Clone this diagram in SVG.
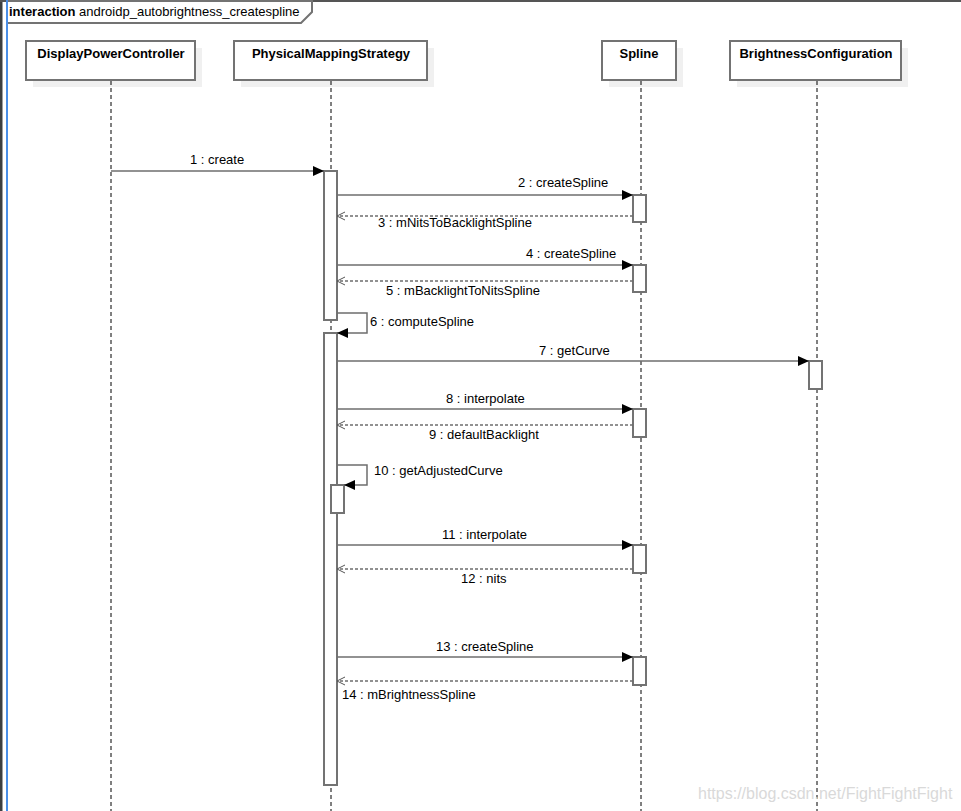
<svg xmlns="http://www.w3.org/2000/svg" width="961" height="811" viewBox="0 0 961 811">
<style>
text{font-family:"Liberation Sans",Arial,sans-serif;font-size:13px;fill:#000}
.hd{font-weight:bold;text-anchor:middle}
.box{fill:#fff;stroke:#737373;stroke-width:2}
.sh{fill:#f0f0f0}
.life{stroke:#000;stroke-width:1;stroke-dasharray:4 3;fill:none}
.act{fill:#fff;stroke:#737373;stroke-width:2}
.msg{stroke:#6e6e6e;stroke-width:1.5;fill:none;marker-end:url(#fa)}
.ret{stroke:#6e6e6e;stroke-width:1.5;fill:none;stroke-dasharray:3 2;marker-end:url(#oa)}
</style>
<defs>
<marker id="fa" markerUnits="userSpaceOnUse" markerWidth="12" markerHeight="10" refX="11" refY="5" orient="auto">
<path d="M0,0 L11,5 L0,10 z" fill="#000"/>
</marker>
<marker id="oa" markerUnits="userSpaceOnUse" markerWidth="10" markerHeight="10" refX="9" refY="5" orient="auto">
<path d="M1,1 L9,5 L1,9" fill="none" stroke="#555" stroke-width="1"/>
</marker>
</defs>
<rect x="0" y="0" width="961" height="811" fill="#fff"/>
<g id="frame">
<rect x="0" y="0" width="2.5" height="811" fill="#3c3f41"/>
<line x1="0" y1="1" x2="961" y2="1" stroke="#555" stroke-width="2"/>
<path d="M7,1 L312,1 L312,12 L301,23 L7,23" fill="#fff" stroke="#737373" stroke-width="2"/>
<line x1="7" y1="0" x2="7" y2="811" stroke="#4a8fe8" stroke-width="2"/>
<text x="9" y="16"><tspan font-weight="bold">interaction</tspan> androidp_autobrightness_createspline</text>
</g>
<g id="DisplayPowerController">
<rect class="sh" x="33" y="48" width="169" height="39"/>
<rect class="box" x="26" y="41" width="169" height="39"/>
<text class="hd" x="111" y="58">DisplayPowerController</text>
<line class="life" x1="111" y1="81" x2="111" y2="811"/>
</g>
<g id="PhysicalMappingStrategy">
<rect class="sh" x="241" y="48" width="193" height="39"/>
<rect class="box" x="234" y="41" width="193" height="39"/>
<text class="hd" x="331" y="58">PhysicalMappingStrategy</text>
<line class="life" x1="331" y1="81" x2="331" y2="811"/>
<rect class="act" x="324" y="171" width="13" height="149"/>
<rect class="act" x="324" y="333" width="13" height="452"/>
<rect class="act" x="331" y="485" width="13" height="28"/>
</g>
<g id="Spline">
<rect class="sh" x="609" y="48" width="74" height="39"/>
<rect class="box" x="602" y="41" width="74" height="39"/>
<text class="hd" x="639" y="58">Spline</text>
<line class="life" x1="641" y1="81" x2="641" y2="811"/>
<rect class="act" x="633" y="195" width="13" height="27"/>
<rect class="act" x="633" y="265" width="13" height="27"/>
<rect class="act" x="633" y="409" width="13" height="28"/>
<rect class="act" x="633" y="545" width="13" height="28"/>
<rect class="act" x="633" y="657" width="13" height="28"/>
</g>
<g id="BrightnessConfiguration">
<rect class="sh" x="737" y="48" width="171" height="39"/>
<rect class="box" x="730" y="41" width="171" height="39"/>
<text class="hd" x="816" y="58">BrightnessConfiguration</text>
<line class="life" x1="817" y1="81" x2="817" y2="811"/>
<rect class="act" x="809" y="361" width="13" height="28"/>
</g>
<g id="connectors">
<line class="msg" x1="111" y1="171" x2="324" y2="171"/>
<text x="190" y="164">1 : create</text>
<line class="msg" x1="337" y1="195" x2="633" y2="195"/>
<text x="518" y="187">2 : createSpline</text>
<line class="ret" x1="633" y1="216" x2="337" y2="216"/>
<text x="378" y="227">3 : mNitsToBacklightSpline</text>
<line class="msg" x1="337" y1="265" x2="633" y2="265"/>
<text x="526" y="258">4 : createSpline</text>
<line class="ret" x1="633" y1="281" x2="337" y2="281"/>
<text x="386" y="295">5 : mBacklightToNitsSpline</text>
<path class="msg" d="M337,313 L367,313 L367,333 L337,333"/>
<text x="370" y="326">6 : computeSpline</text>
<line class="msg" x1="337" y1="361" x2="809" y2="361"/>
<text x="539" y="355">7 : getCurve</text>
<line class="msg" x1="337" y1="409" x2="633" y2="409"/>
<text x="446" y="403">8 : interpolate</text>
<line class="ret" x1="633" y1="425" x2="337" y2="425"/>
<text x="429" y="439">9 : defaultBacklight</text>
<path class="msg" d="M337,465 L367,465 L367,485 L344,485"/>
<text x="374" y="475">10 : getAdjustedCurve</text>
<line class="msg" x1="337" y1="545" x2="633" y2="545"/>
<text x="442" y="539">11 : interpolate</text>
<line class="ret" x1="633" y1="569" x2="337" y2="569"/>
<text x="461" y="583">12 : nits</text>
<line class="msg" x1="337" y1="657" x2="633" y2="657"/>
<text x="436" y="651">13 : createSpline</text>
<line class="ret" x1="633" y1="681" x2="337" y2="681"/>
<text x="342" y="699">14 : mBrightnessSpline</text>
</g>
<text x="698" y="799" style="font-size:16px;fill:#d9d9d9">https://blog.csdn.net/FightFightFight</text>
</svg>
